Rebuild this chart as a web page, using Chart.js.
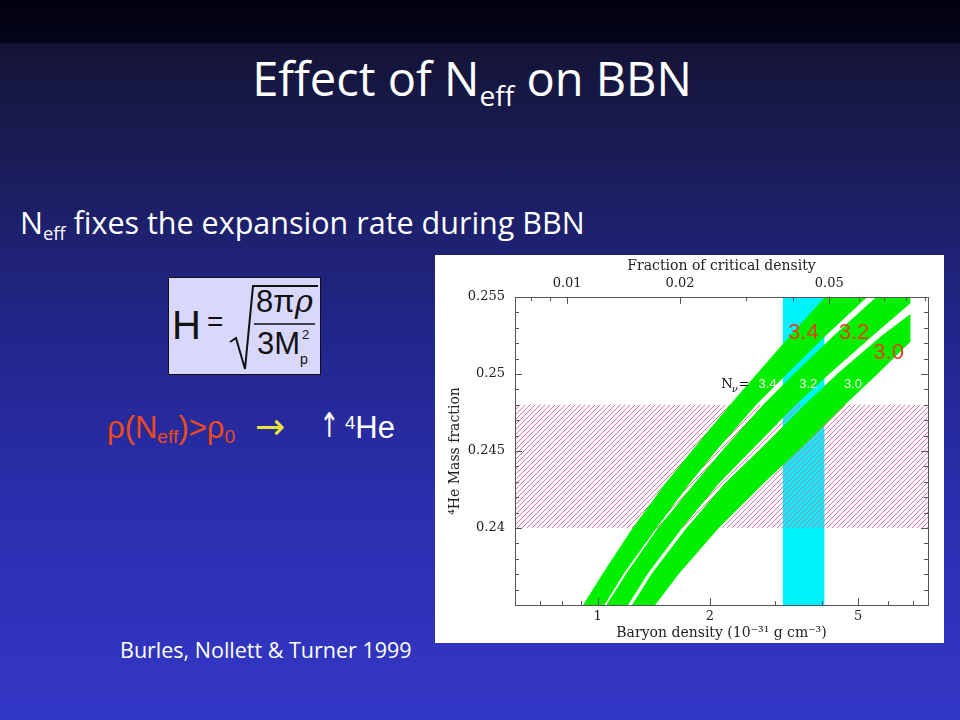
<!DOCTYPE html>
<html>
<head>
<meta charset="utf-8">
<script src="https://cdn.jsdelivr.net/npm/chart.js@4/dist/chart.umd.min.js"></script>
<style>
  html, body { margin: 0; padding: 0; }
  body {
    width: 960px; height: 720px; overflow: hidden; position: relative;
    background: linear-gradient(to bottom, #01010e 0px, #05051b 43px, #141436 44px, #1a1c55 150px, #22268a 330px, #2b2fb0 520px, #3337c6 720px);
    font-family: "Comic Sans MS", "Open Sans", sans-serif;
    color: #fff;
  }
  .title { position: absolute; left: 0; width: 944px; top: 46px; text-align: center; font-size: 47px; }
  .title sub, .sub sub { font-size: 60%; vertical-align: -0.35em; }
  .sub { position: absolute; left: 20px; top: 201px; font-size: 30.5px; }
  .eq {
    position: absolute; left: 168px; top: 277px; width: 151px; height: 96px;
    background: #d8d8fc; border: 1px solid #111; color: #111;
    font-family: "Liberation Sans", Arial, sans-serif;
  }
  .eq span { position: absolute; line-height: 1; }
  .eq .h { left: 3px; top: 27px; font-size: 40px; }
  .eq .eqs { left: 38px; top: 30px; font-size: 28px; }
  .eq svg { position: absolute; left: 0; top: 0; }
  .eq .num { left: 87px; top: 8px; font-size: 31px; }
  .eq .num i { font-family: "DejaVu Serif", serif; }
  .eq .den { left: 88px; top: 50px; font-size: 31px; }
  .eq .p2 { left: 133px; top: 50px; font-size: 13px; }
  .eq .pp { left: 131px; top: 74px; font-size: 14px; }
  .rel span { position: absolute; white-space: nowrap; font-family: "Liberation Sans", Arial, sans-serif; line-height: 1; }
  .rel .red { left: 107px; top: 412px; font-size: 31px; color: #ec4a1c; }
  .rel .red sub { font-size: 62%; vertical-align: -0.25em; }
  .rel .arr { left: 255px; top: 409px; font-size: 36px; color: #e8e43a; font-family: "DejaVu Sans", sans-serif; }
  .rel .up { left: 315px; top: 408px; font-size: 34px; color: #fff; font-family: "DejaVu Sans", sans-serif; transform: scaleX(0.7); }
  .rel .he { left: 345px; top: 412px; font-size: 31px; color: #fff; }
  .rel .he sup { font-size: 60%; vertical-align: 0.5em; }
  .cite { position: absolute; left: 120px; top: 635px; font-size: 21.5px; }
  #box { position: absolute; left: 435px; top: 255px; width: 509px; height: 388px; background: #fff; }
</style>
</head>
<body>
<div class="title">Effect of N<sub>eff</sub> on BBN</div>
<div class="sub">N<sub>eff</sub> fixes the expansion rate during BBN</div>
<div class="eq">
  <svg width="151" height="96"><path d="M61 64 L67 60 L76 91 L84 8 L149 8" fill="none" stroke="#111" stroke-width="2"/><line x1="85" y1="46" x2="146" y2="46" stroke="#111" stroke-width="1.5"/></svg>
  <span class="h">H</span><span class="eqs">=</span>
  <span class="num">8π<i>ρ</i></span>
  <span class="den">3M</span><span class="p2">2</span><span class="pp">p</span>
</div>
<div class="rel">
  <span class="red">ρ(N<sub>eff</sub>)&gt;ρ<sub>0</sub></span>
  <span class="arr">→</span>
  <span class="up">↑</span>
  <span class="he"><sup>4</sup>He</span>
</div>
<div class="cite">Burles, Nollett &amp; Turner 1999</div>
<div id="box"><canvas id="bbn"></canvas></div>

<script>
// axis ranges
const rhoMin = 0.61;
const rhoMax = 7.7;
const yMin = 0.235;
const yMax = 0.255;
const critRatio = 84; // baryon density (1e-31 g/cm3) per unit of Omega_b

const rhoLabels = [1, 2, 5];
const rhoMinor = [0.7, 0.8, 0.9, 3, 4, 6, 7];
const omegaLabels = [0.01, 0.02, 0.05];
const omegaMinor = [0.008, 0.009, 0.03, 0.04, 0.06, 0.07, 0.08, 0.09];

// Yp levels where the band edges were read
const yEdge = [0.234, 0.235, 0.23706, 0.240, 0.2429, 0.24528, 0.24807, 0.250, 0.25252, 0.255, 0.2555];

// N_nu = 3.4 band, left (upper) and right (lower) edges
const rho34L = [0.8647, 0.9139, 1.0330, 1.2415, 1.5199, 1.8267, 2.2785, 2.6719, 3.2911, 4.0791, 4.2580];
const rho34R = [0.9866, 1.0426, 1.1767, 1.4383, 1.7663, 2.1232, 2.6802, 3.2214, 4.1041, 5.2904, 5.5587];

// N_nu = 3.2 band
const rho32L = [0.9988, 1.0554, 1.1949, 1.4516, 1.8211, 2.2030, 2.7975, 3.3614, 4.3106, 5.5929, 5.8762];
const y32R = [0.234, 0.235, 0.23706, 0.240, 0.2429, 0.24528, 0.24807, 0.250, 0.25252, 0.2546, 0.2556];
const rho32R = [1.1396, 1.2064, 1.3655, 1.6846, 2.1167, 2.6394, 3.4238, 4.1806, 5.4887, 6.91, 6.91];

// N_nu = 3.0 band
const y30L = [0.234, 0.235, 0.23706, 0.240, 0.2429, 0.24528, 0.24807, 0.250, 0.25252, 0.2539];
const rho30L = [1.1677, 1.2362, 1.3990, 1.7313, 2.1963, 2.7719, 3.6188, 4.3902, 5.8046, 6.91];
const y30R = [0.234, 0.235, 0.23706, 0.240, 0.2429, 0.24528, 0.24807, 0.250, 0.2521];
const rho30R = [1.3360, 1.4269, 1.6562, 2.1128, 2.7889, 3.5429, 4.6389, 5.6342, 6.91];

// observational constraints
const heBand = [0.240, 0.248];   // hatched Yp range
const dBand = [3.14, 4.06];      // cyan baryon density range (from D/H)

// labels on the plot
const nuLabels = ["3.4", "3.2", "3.0"];
const nuLabelRho = [2.858, 3.675, 4.842];
const nuLabelY = 0.2493;
const nuTitleRho = 2.349;
const bigLabelRho = [3.564, 4.872, 6.038];
const bigLabelY = [0.25266, 0.25266, 0.25136];

function band(rL, yL, rR, yR) {
  const pts = rL.map((r, i) => ({x: r, y: yL[i]}));
  for (let i = rR.length - 1; i >= 0; i--) pts.push({x: rR[i], y: yR[i]});
  return pts;
}

function hatch() {
  const c = document.createElement("canvas");
  c.width = 5; c.height = 5;
  const g = c.getContext("2d");
  g.strokeStyle = "#e0609a";
  g.lineWidth = 0.9;
  g.beginPath();
  g.moveTo(-1, 6); g.lineTo(6, -1);
  g.moveTo(-1, 1); g.lineTo(1, -1);
  g.moveTo(4, 6); g.lineTo(6, 4);
  g.stroke();
  return g.createPattern(c, "repeat");
}

const isMajorY = v => Math.abs(v / 0.005 - Math.round(v / 0.005)) < 1e-6;

const shape = (data, color, order) => ({
  data, backgroundColor: color, borderWidth: 0, pointRadius: 0,
  fill: "shape", order, xAxisID: "x", yAxisID: "y",
});

const framePlugin = {
  id: "frame",
  afterDatasetsDraw(chart) {
    const {ctx, chartArea: a, scales} = chart;
    ctx.save();
    ctx.strokeStyle = "#555";
    ctx.lineWidth = 1;
    const seg = (x1, y1, x2, y2) => { ctx.beginPath(); ctx.moveTo(x1, y1); ctx.lineTo(x2, y2); ctx.stroke(); };
    ctx.strokeRect(Math.round(a.left) + 0.5, Math.round(a.top) + 0.5, Math.round(a.right - a.left), Math.round(a.bottom - a.top));
    for (let v = yMin; v <= yMax + 1e-9; v += 0.001) {
      const py = Math.round(scales.y.getPixelForValue(v)) + 0.5;
      const len = isMajorY(v) ? 7 : 4;
      seg(a.left, py, a.left + len, py);
      seg(a.right, py, a.right - len, py);
    }
    rhoLabels.concat(rhoMinor).forEach(v => {
      const px = Math.round(scales.x.getPixelForValue(v)) + 0.5;
      seg(px, a.bottom, px, a.bottom - (rhoLabels.includes(v) ? 7 : 4));
    });
    omegaLabels.concat(omegaMinor).forEach(v => {
      const px = Math.round(scales.x2.getPixelForValue(v)) + 0.5;
      seg(px, a.top, px, a.top + (omegaLabels.includes(v) ? 7 : 4));
    });

    // N_nu labels
    ctx.textBaseline = "middle";
    ctx.textAlign = "center";
    const ny = scales.y.getPixelForValue(nuLabelY);
    ctx.fillStyle = "#111";
    ctx.font = "13px 'DejaVu Serif'";
    const tx = scales.x.getPixelForValue(nuTitleRho);
    ctx.fillText("N", tx - 9, ny);
    ctx.font = "italic 10px 'DejaVu Serif'";
    ctx.fillText("ν", tx - 1, ny + 5);
    ctx.font = "13px 'DejaVu Serif'";
    ctx.fillText("=", tx + 8, ny);
    ctx.fillStyle = "#f4fff4";
    ctx.font = "13px 'Liberation Sans'";
    nuLabels.forEach((t, i) => ctx.fillText(t, scales.x.getPixelForValue(nuLabelRho[i]), ny));
    ctx.fillStyle = "#e0401a";
    ctx.font = "22px 'Liberation Sans'";
    nuLabels.forEach((t, i) => ctx.fillText(t, scales.x.getPixelForValue(bigLabelRho[i]), scales.y.getPixelForValue(bigLabelY[i])));
    ctx.restore();
  },
};

const tickFont = {family: "DejaVu Serif", size: 13};
const titleFont = {family: "DejaVu Serif", size: 14};
const noGrid = {display: false, drawTicks: false};

new Chart(document.getElementById("bbn"), {
  type: "line",
  data: {
    datasets: [
      shape(band(rho34L, yEdge, rho34R, yEdge), "#00f000", 0),
      shape(band(rho32L, yEdge, rho32R, y32R), "#00f000", 0),
      shape(band(rho30L, y30L, rho30R, y30R), "#00f000", 0),
      shape([{x: 0.5, y: heBand[0]}, {x: 9, y: heBand[0]}, {x: 9, y: heBand[1]}, {x: 0.5, y: heBand[1]}], hatch(), 1),
      shape([{x: dBand[0], y: 0.23}, {x: dBand[1], y: 0.23}, {x: dBand[1], y: 0.26}, {x: dBand[0], y: 0.26}], "#00f2fa", 2),
    ],
  },
  options: {
    responsive: true,
    maintainAspectRatio: false,
    animation: false,
    layout: {padding: {left: 12, right: 16, top: 0, bottom: 0}},
    plugins: {legend: {display: false}, tooltip: {enabled: false}},
    scales: {
      x: {
        type: "logarithmic", position: "bottom", min: rhoMin, max: rhoMax,
        grid: noGrid, border: {display: false},
        ticks: {
          color: "#222", font: tickFont, padding: 4, autoSkip: false, maxRotation: 0,
          callback: v => (rhoLabels.includes(+v.toFixed(3)) ? String(v) : ""),
        },
        title: {display: true, text: "Baryon density (10⁻³¹ g cm⁻³)", color: "#222", font: titleFont, padding: {top: 0, bottom: 1}},
        afterFit: s => { s.height = 38; },
      },
      x2: {
        type: "logarithmic", position: "top", min: rhoMin / critRatio, max: rhoMax / critRatio,
        grid: noGrid, border: {display: false},
        ticks: {
          color: "#222", font: tickFont, padding: 6, autoSkip: false, maxRotation: 0,
          callback: v => (omegaLabels.includes(+v.toFixed(4)) ? String(+v.toFixed(4)) : ""),
        },
        title: {display: true, text: "Fraction of critical density", color: "#222", font: titleFont, padding: {top: 3, bottom: 0}},
        afterFit: s => { s.height = 42; },
      },
      y: {
        min: yMin, max: yMax,
        grid: noGrid, border: {display: false},
        ticks: {
          color: "#222", font: tickFont, padding: 10, stepSize: 0.001, autoSkip: false,
          callback: v => (isMajorY(v) && v > yMin + 1e-6 ? String(+v.toFixed(3)) : ""),
        },
        title: {display: true, text: "⁴He Mass fraction", color: "#222", font: titleFont, padding: {top: 0, bottom: 0}},
        afterFit: s => { s.width = 68; },
      },
    },
  },
  plugins: [framePlugin],
});
</script>
</body>
</html>
